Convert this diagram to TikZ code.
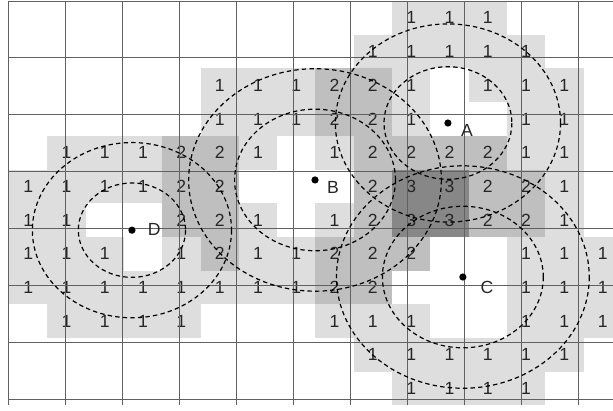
\documentclass[tikz,border=0pt]{standalone}
\usepackage{fontspec}
\setmainfont{Liberation Sans}
\colorlet{shade1}{black!13}
\colorlet{shade2}{black!25}
\colorlet{shade3}{black!47}
\begin{document}
\begin{tikzpicture}[x=19.15pt, y=-16.85pt, font=\fontsize{8.8}{10}\selectfont,
    gridline/.style={black!62, line width=0.5pt},
    num/.style={inner sep=0pt, text=black!85},
    dot/.style={circle, fill=black, inner sep=0pt, minimum size=3.6pt},
    cname/.style={inner sep=0pt, text=black!85},
    ring/.style={dash pattern=on 2.2pt off 1.6pt, line width=0.6pt}]
    \useasboundingbox (-0.235,-0.03) rectangle (15.77,12.14);
    \begin{scope}
        \clip (-0.235,-0.03) rectangle (15.77,12.14);
        % counts per cell, row by row (0 = empty)
        \foreach \row [count=\r from 0] in {
            {0,0,0,0,0,0,0,0,0,0,1,1,1,0,0,0},
            {0,0,0,0,0,0,0,0,0,1,1,1,1,1,0,0},
            {0,0,0,0,0,1,1,1,2,2,1,0,1,1,1,0},
            {0,0,0,0,0,1,1,1,2,2,1,0,0,1,1,0},
            {0,1,1,1,2,2,1,0,1,2,2,2,2,1,1,0},
            {1,1,1,1,2,2,0,0,0,2,3,3,2,2,1,0},
            {1,1,0,0,2,2,1,0,1,2,3,3,2,2,1,0},
            {1,1,1,0,1,2,1,1,2,2,2,0,0,1,1,1},
            {1,1,1,1,1,1,1,1,2,2,0,0,0,1,1,1},
            {0,1,1,1,1,0,0,0,1,1,1,0,0,1,1,1},
            {0,0,0,0,0,0,0,0,0,1,1,1,1,1,1,0},
            {0,0,0,0,0,0,0,0,0,0,1,1,1,1,0,0}}{
            \foreach \v [count=\c from 0] in \row {
                \ifnum\v>0
                    \fill[fill=shade\v] (\c,\r) rectangle +(1,1);
                    \node[num] (n-\r-\c) at (\c+0.5,\r+0.5) {\v};
                \fi
            }
        }
        \draw[gridline] (0,0) grid (15.77,12);
    \end{scope}
    % the four centres
    \node[dot] (A) at (11.46,3.62) {};
    \node[dot] (B) at (7.99,5.31) {};
    \node[dot] (C) at (11.85,8.19) {};
    \node[dot] (D) at (3.21,6.8) {};
    \node[cname] (lA) at (11.96,3.83) {A};
    \node[cname] (lB) at (8.46,5.52) {B};
    \node[cname] (lC) at (12.48,8.49) {C};
    \node[cname] (lD) at (3.79,6.77) {D};
    % inner and outer rings
    \draw[ring] (A) circle[radius=1.67] (A) circle[radius=2.94];
    \draw[ring] (B) circle[radius=2.1] (B) circle[radius=3.3];
    \draw[ring] (C) circle[radius=2.1] (C) circle[radius=3.3];
    \draw[ring] (D) circle[radius=1.4] (D) circle[radius=2.6];
\end{tikzpicture}
\end{document}
